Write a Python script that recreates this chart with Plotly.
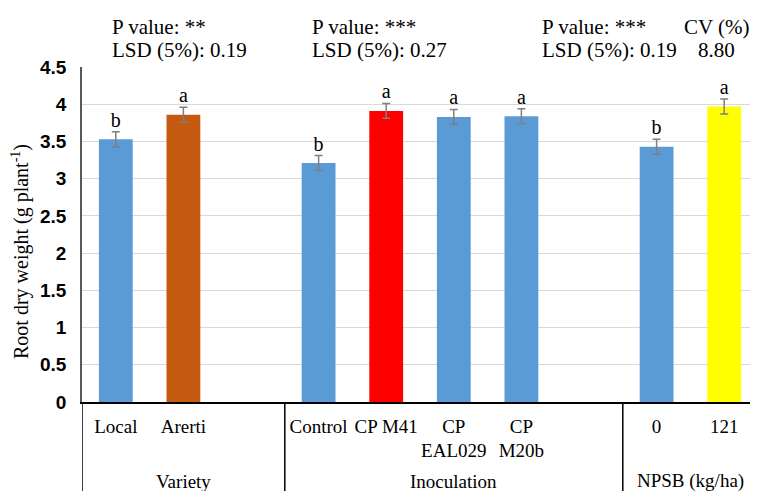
import plotly.graph_objects as go

categories = ["Local", "Arerti", "", "Control", "CP M41", "CP<br>EAL029", "CP<br>M20b", "", "0", "121"]
values = [3.53, 3.86, None, 3.21, 3.91, 3.83, 3.84, None, 3.43, 3.97]
errors = [0.10, 0.10, None, 0.10, 0.10, 0.10, 0.10, None, 0.10, 0.10]
letters = ["b", "a", "", "b", "a", "a", "a", "", "b", "a"]
colors = ["#5b9bd5", "#c55a11", "#5b9bd5", "#5b9bd5", "#ff0000", "#5b9bd5", "#5b9bd5", "#5b9bd5", "#5b9bd5", "#ffff00"]
y_ticks = [0, 0.5, 1, 1.5, 2, 2.5, 3, 3.5, 4, 4.5]
y_ticktext = ["0", "0.5", "1", "1.5", "2", "2.5", "3", "3.5", "4", "4.5"]
groups = ["Variety", "Inoculation", "NPSB (kg/ha)"]
group_spans = [(-0.5, 2.5), (2.5, 7.5), (7.5, 9.5)]
stats = [("P value: **", "LSD (5%): 0.19", -0.09),
         ("P value: ***", "LSD (5%): 0.27", 2.87),
         ("P value: ***", "LSD (5%): 0.19", 6.28)]
cv_label = ["CV (%):", "8.80"]
y_title = "Root dry weight (g plant<sup>-1</sup>)"

pos = list(range(len(categories)))
bx = [p for p, v in zip(pos, values) if v is not None]
by = [v for v in values if v is not None]
be = [e for e in errors if e is not None]
bc = [c for c, v in zip(colors, values) if v is not None]
bl = [l for l, v in zip(letters, values) if v is not None]

serif = "Liberation Serif"
PW = 676  # plot width in px
PH = 335  # plot height in px

fig = go.Figure()
fig.add_trace(go.Bar(
    x=bx, y=by, width=0.5,
    marker=dict(color=bc, line=dict(width=0)),
    error_y=dict(type="data", array=be, color="#7f7f7f", thickness=1.5, width=4),
    hoverinfo="skip",
))
fig.add_trace(go.Scatter(
    x=bx, y=[v + e for v, e in zip(by, be)], mode="text", text=bl,
    textposition="top center", textfont=dict(family=serif, size=20, color="black"),
    hoverinfo="skip",
))

tv = [p for p, c in zip(pos, categories) if c]
tt = [c for c in categories if c]

# page body has an 8px default margin: size the figure to compensate
fig.update_layout(
    width=750, height=483,
    margin=dict(l=74, r=0, t=59, b=89),
    plot_bgcolor="white", paper_bgcolor="white",
    showlegend=False,
    xaxis=dict(range=[-0.5, 9.5], tickvals=tv, ticktext=tt, tickangle=0, automargin=False,
               tickfont=dict(family=serif, size=19, color="black"),
               ticks="outside", ticklen=6, tickcolor="rgba(0,0,0,0)",
               showgrid=False, zeroline=False, showline=True, linecolor="black", linewidth=1.5,
               fixedrange=True),
    yaxis=dict(range=[0, 4.5], tickvals=y_ticks, ticktext=y_ticktext, automargin=False,
               tickfont=dict(family="Liberation Sans", size=19, color="black", weight="bold"),
               ticklabelstandoff=10,
               showgrid=True, gridcolor="#d9d9d9", gridwidth=1,
               zeroline=False, showline=True, linecolor="#595959", linewidth=1.5,
               ticks="", fixedrange=True),
)

# y title
fig.add_annotation(text=y_title, xref="paper", yref="paper", x=(20 - 82) / PW, y=(402 - 252) / PH,
                   textangle=-90, showarrow=False, xanchor="center", yanchor="middle",
                   font=dict(family=serif, size=20, color="black"))

# box lines below axis
bottom = -(491 - 402) / PH - 0.02
lines_x = [-0.5] + [s[1] for s in group_spans[:-1]]
for lx in lines_x:
    fig.add_shape(type="line", xref="x", yref="paper", x0=lx, x1=lx, y0=0, y1=bottom,
                  line=dict(color="black", width=1.5))

for g, (a, b) in zip(groups, group_spans):
    fig.add_annotation(text=g, xref="x", yref="paper", x=(a + b) / 2, y=(402 - 481) / PH,
                       showarrow=False, xanchor="center", yanchor="middle",
                       font=dict(family=serif, size=19, color="black"))

for p1, p2, sx in stats:
    fig.add_annotation(text=p1, xref="x", yref="paper", x=sx, y=1 + 40 / PH,
                       showarrow=False, xanchor="left", yanchor="middle",
                       font=dict(family=serif, size=21, color="black"))
    fig.add_annotation(text=p2, xref="x", yref="paper", x=sx, y=1 + 17 / PH,
                       showarrow=False, xanchor="left", yanchor="middle",
                       font=dict(family=serif, size=21, color="black"))

fig.add_annotation(text=cv_label[0], xref="x", yref="paper", x=8.93, y=1 + 40 / PH,
                   showarrow=False, xanchor="center", yanchor="middle",
                   font=dict(family=serif, size=21, color="black"))
fig.add_annotation(text=cv_label[1], xref="x", yref="paper", x=8.88, y=1 + 17 / PH,
                   showarrow=False, xanchor="center", yanchor="middle",
                   font=dict(family=serif, size=21, color="black"))

fig.write_html("out.html")
